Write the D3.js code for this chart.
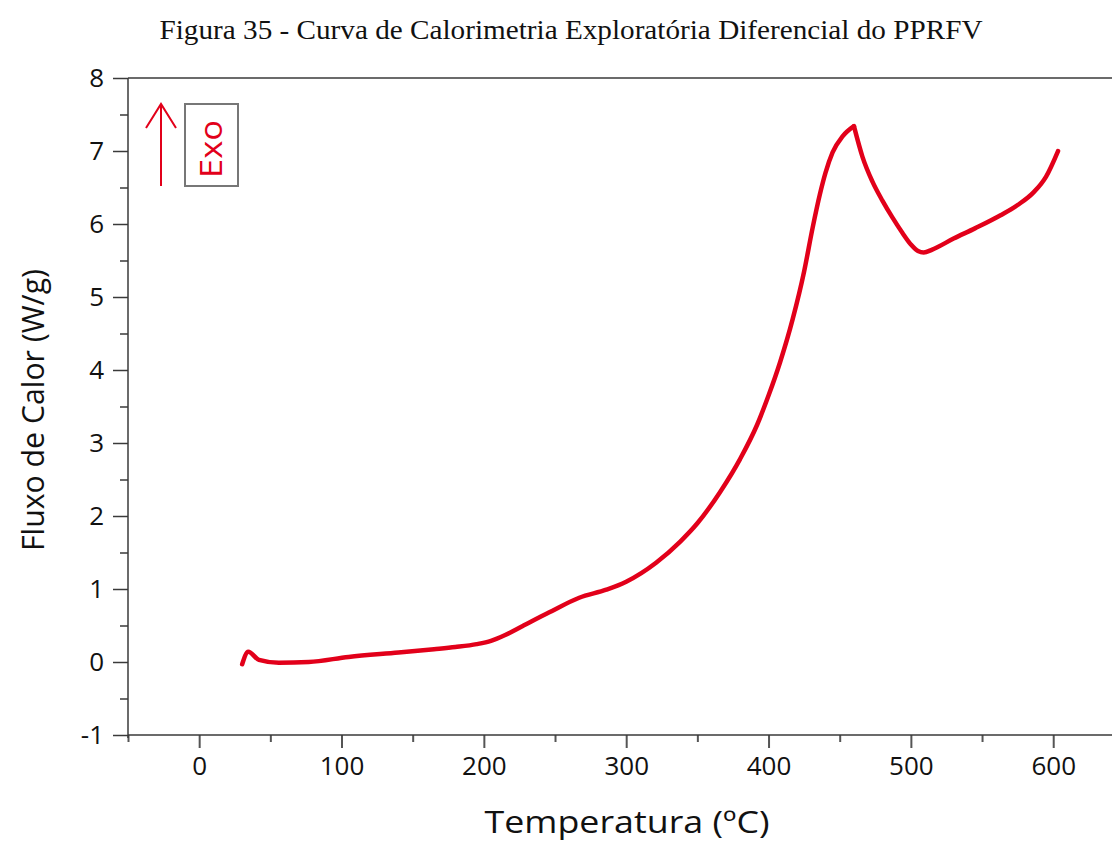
<!DOCTYPE html>
<html>
<head>
<meta charset="utf-8">
<script src="https://cdn.jsdelivr.net/npm/d3@7"></script>
<style>
  html, body { margin: 0; padding: 0; background: #fff; }
  svg { display: block; }
</style>
</head>
<body>
<svg id="chart" width="1112" height="841"></svg>
<script>
// DSC curve: temperature (°C) and heat flow (W/g)
const temperature = [30.2, 34.5, 42, 56, 77, 105, 140, 165, 180, 195, 205, 215, 227, 246, 267, 286, 300, 321, 338, 350, 366, 380, 392, 400, 408, 417, 425, 431, 436, 440, 445, 452, 460, 466, 473, 480, 487, 494, 500, 505, 509, 515, 530, 545, 563, 575, 586, 595, 603.4];
const heatFlow    = [-0.03, 0.14, 0.03, -0.01, 0.0, 0.07, 0.13, 0.175, 0.205, 0.245, 0.29, 0.37, 0.49, 0.68, 0.88, 0.99, 1.10, 1.36, 1.65, 1.90, 2.33, 2.78, 3.25, 3.65, 4.10, 4.70, 5.35, 5.95, 6.40, 6.70, 6.98, 7.20, 7.34, 6.92, 6.58, 6.32, 6.09, 5.88, 5.72, 5.63, 5.61, 5.65, 5.80, 5.94, 6.12, 6.26, 6.43, 6.65, 7.00];

const xMajorTicks = [0, 100, 200, 300, 400, 500, 600];
const xMinorTicks = [-50, 50, 150, 250, 350, 450, 550];
const yMajorTicks = [-1, 0, 1, 2, 3, 4, 5, 6, 7, 8];
const yMinorTicks = [-0.5, 0.5, 1.5, 2.5, 3.5, 4.5, 5.5, 6.5, 7.5];

const titleText = "Figura 35 - Curva de Calorimetria Exploratória Diferencial do PPRFV";
const xTitle = "Temperatura (ºC)";
const yTitle = "Fluxo de Calor (W/g)";
const exoLabel = "Exo";

const svg = d3.select("#chart");
const red = "#e2001a";
const axisColor = "#3a3a3a";
const sans = "'Open Sans', 'DejaVu Sans', sans-serif";
const plainNumber = d => String(d).replace("\u2212", "-");

const plot = { left: 128, right: 1112, top: 78, bottom: 735 };

const x = d3.scaleLinear().domain([-50, 641.3]).range([plot.left, plot.right]);
const y = d3.scaleLinear().domain([-1, 8]).range([plot.bottom, plot.top]);

// Title
svg.append("text")
  .attr("x", 571).attr("y", 39)
  .attr("text-anchor", "middle")
  .attr("font-family", "'Liberation Serif', 'Times New Roman', serif")
  .attr("font-size", 27)
  .attr("textLength", 823)
  .attr("lengthAdjust", "spacingAndGlyphs")
  .attr("fill", "#111")
  .text(titleText);

// Top frame line
svg.append("line")
  .attr("x1", plot.left).attr("x2", plot.right)
  .attr("y1", plot.top).attr("y2", plot.top)
  .attr("stroke", axisColor).attr("stroke-width", 1.5);

// X axis: major and minor ticks
const xAxisG = svg.append("g").attr("transform", `translate(0,${plot.bottom})`);
xAxisG.append("g")
  .call(d3.axisBottom(x).tickValues(xMinorTicks).tickSize(7).tickFormat(""))
  .call(g => g.select(".domain").remove());
xAxisG.append("g")
  .call(d3.axisBottom(x).tickValues(xMajorTicks).tickSize(13).tickPadding(9).tickFormat(plainNumber))
  .call(g => g.select(".domain").remove());
xAxisG.selectAll(".tick line").attr("stroke", "#555").attr("stroke-width", 2);
xAxisG.selectAll(".tick text")
  .attr("font-family", sans).attr("font-size", 26).attr("fill", "#111");
xAxisG.append("line")
  .attr("x1", plot.left).attr("x2", plot.right)
  .attr("y1", 0).attr("y2", 0)
  .attr("stroke", axisColor).attr("stroke-width", 1.5);

// Y axis: major and minor ticks
const yAxisG = svg.append("g").attr("transform", `translate(${plot.left},0)`);
yAxisG.append("g")
  .call(d3.axisLeft(y).tickValues(yMinorTicks).tickSize(8).tickFormat(""))
  .call(g => g.select(".domain").remove());
yAxisG.append("g")
  .call(d3.axisLeft(y).tickValues(yMajorTicks).tickSize(15).tickPadding(9).tickFormat(plainNumber))
  .call(g => g.select(".domain").remove());
yAxisG.selectAll(".tick line").attr("stroke", axisColor).attr("stroke-width", 1.5);
yAxisG.selectAll(".tick text")
  .attr("font-family", sans).attr("font-size", 26).attr("fill", "#111");
yAxisG.append("line")
  .attr("x1", 0).attr("x2", 0)
  .attr("y1", plot.top).attr("y2", plot.bottom + 3)
  .attr("stroke", axisColor).attr("stroke-width", 1.5);

// Axis titles
svg.append("text")
  .attr("x", 627).attr("y", 833)
  .attr("text-anchor", "middle")
  .attr("font-family", sans).attr("font-size", 31)
  .attr("textLength", 285).attr("lengthAdjust", "spacingAndGlyphs")
  .attr("fill", "#111")
  .text(xTitle);

svg.append("text")
  .attr("transform", "translate(44,410) rotate(-90)")
  .attr("text-anchor", "middle")
  .attr("font-family", sans).attr("font-size", 31)
  .attr("textLength", 282).attr("lengthAdjust", "spacingAndGlyphs")
  .attr("fill", "#111")
  .text(yTitle);

// Exothermic direction marker
const marker = svg.append("g");
marker.append("line")
  .attr("x1", 161).attr("x2", 161).attr("y1", 186).attr("y2", 104)
  .attr("stroke", red).attr("stroke-width", 2);
marker.append("polyline")
  .attr("points", "146,128 161,104 176,128")
  .attr("fill", "none").attr("stroke", red).attr("stroke-width", 2);
marker.append("rect")
  .attr("x", 185).attr("y", 104).attr("width", 53).attr("height", 82)
  .attr("fill", "none").attr("stroke", "#777").attr("stroke-width", 2);
marker.append("text")
  .attr("transform", "translate(222,149) rotate(-90)")
  .attr("text-anchor", "middle")
  .attr("font-family", sans).attr("font-size", 31)
  .attr("textLength", 58).attr("lengthAdjust", "spacingAndGlyphs")
  .attr("fill", red)
  .text(exoLabel);

// Heat flow curve, drawn as two smooth branches meeting at the exothermic peak
const points = temperature.map((t, i) => [t, heatFlow[i]]);
const peakIndex = d3.maxIndex(heatFlow);
const branches = [points.slice(0, peakIndex + 1), points.slice(peakIndex)];
const line = d3.line()
  .x(d => x(d[0]))
  .y(d => y(d[1]))
  .curve(d3.curveMonotoneX);

svg.selectAll("path.curve")
  .data(branches)
  .join("path")
  .attr("class", "curve")
  .attr("d", line)
  .attr("fill", "none")
  .attr("stroke", red)
  .attr("stroke-width", 4.5)
  .attr("stroke-linejoin", "round")
  .attr("stroke-linecap", "round");
</script>
</body>
</html>
